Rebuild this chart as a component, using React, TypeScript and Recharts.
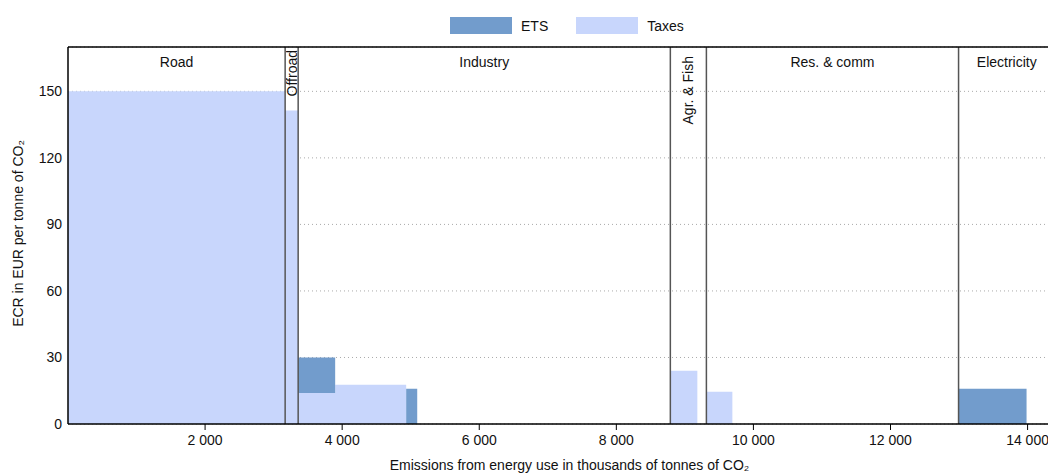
import React from 'react';
import { ComposedChart, Area, XAxis, YAxis, CartesianGrid, ReferenceLine, ReferenceArea } from 'recharts';

// emission breakpoints (thousands of tonnes CO2) and rates starting at each one
const breakpoints = [0, 3168, 3358, 3898, 4934, 5095, 8788, 9182, 9314, 9693, 12993, 13985];
const taxesRate = [150, 141.4, 14, 17.7, 0, 0, 24, 0, 14.5, 0, 0, 0];
const etsRate = [0, 0, 16, 0, 15.9, 0, 0, 0, 0, 0, 15.9, 0];

const sectorNames = ['Road', 'Offroad', 'Industry', 'Agr. & Fish', 'Res. & comm', 'Electricity'];
const sectorStarts = [0, 3168, 3358, 8788, 9314, 12993];
const sectorEnds = [3168, 3358, 8788, 9314, 12993, 14400];

const xTicks = [2000, 4000, 6000, 8000, 10000, 12000, 14000];
const yTicks = [0, 30, 60, 90, 120, 150];

const data = breakpoints.map((x, i) => ({ x, taxes: taxesRate[i], ets: etsRate[i] }));

const FONT = '"Liberation Sans Narrow", "Arial Narrow", "Liberation Sans", Arial, sans-serif';
const FS = 14;
const ETS_COLOR = '#729ccc';
const TAX_COLOR = '#c8d6fc';

const fmt = (v: number) => String(v).replace(/\B(?=(\d{3})+(?!\d))/g, ' ');

const sectorLabel = (name: string) => (props: any) => {
  const { x, y, width } = props.viewBox;
  const cx = x + width / 2;
  if (width < 60) {
    const top = y + (width < 20 ? 3 : 9);
    return (
      <text x={cx} y={top} transform={`rotate(-90 ${cx} ${top})`} textAnchor="end"
        dominantBaseline="central" fontFamily={FONT} fontSize={FS} fill="#111">{name}</text>
    );
  }
  return (
    <text x={cx} y={y + 15} textAnchor="middle" dominantBaseline="central"
      fontFamily={FONT} fontSize={FS} fill="#111">{name}</text>
  );
};

const YLabel = (props: any) => {
  const { y, height } = props.viewBox;
  const cy = y + height / 2 - 2;
  return (
    <text x={10} y={cy} transform={`rotate(-90 10 ${cy})`} textAnchor="middle" dominantBaseline="central"
      fontFamily={FONT} fontSize={FS} fill="#111">ECR in EUR per tonne of CO₂</text>
  );
};

const XLabel = (props: any) => {
  const { x, width } = props.viewBox;
  return (
    <text x={x + width / 2 + 8} y={457} textAnchor="middle" dominantBaseline="central"
      fontFamily={FONT} fontSize={FS} fill="#111">Emissions from energy use in thousands of tonnes of CO₂</text>
  );
};

const legendItems = [
  { name: 'ETS', color: ETS_COLOR },
  { name: 'Taxes', color: TAX_COLOR },
];

export default function App() {
  return (
    <div style={{ position: 'relative', width: 1048, height: 465, fontFamily: FONT }}>
      <div style={{ position: 'absolute', left: 442, top: 9, display: 'flex', alignItems: 'center', fontSize: FS, color: '#111' }}>
        {legendItems.map((it) => (
          <div key={it.name} style={{ display: 'flex', alignItems: 'center', marginRight: 28 }}>
            <div style={{ width: 62, height: 17, background: it.color, marginRight: 9 }} />
            <span>{it.name}</span>
          </div>
        ))}
      </div>
      <ComposedChart width={1048} height={465} data={data} margin={{ top: 39, right: 1, bottom: 0, left: 0 }}>
        <CartesianGrid vertical={false} stroke="#aaa" strokeDasharray="1 3" />
        <XAxis
          dataKey="x"
          type="number"
          domain={[0, 14400]}
          ticks={xTicks}
          tickFormatter={fmt}
          height={49}
          axisLine={{ stroke: '#000', strokeWidth: 1.5 }}
          tickLine={{ stroke: '#000' }}
          tickSize={6}
          tickMargin={5}
          tick={{ fill: '#111', fontSize: FS, fontFamily: FONT }}
          label={<XLabel />}
        />
        <YAxis
          type="number"
          domain={[0, 170]}
          ticks={yTicks}
          width={60}
          axisLine={{ stroke: '#000', strokeWidth: 1.5 }}
          tickLine={false}
          tickSize={4}
          tickMargin={2}
          tick={{ fill: '#111', fontSize: FS, fontFamily: FONT }}
          label={<YLabel />}
        />
        <Area type="stepAfter" dataKey="taxes" stackId="r" stroke="none" fill={TAX_COLOR} fillOpacity={1} isAnimationActive={false} />
        <Area type="stepAfter" dataKey="ets" stackId="r" stroke="none" fill={ETS_COLOR} fillOpacity={1} isAnimationActive={false} />
        {sectorStarts.slice(1).map((s) => (
          <ReferenceLine key={s} x={s} stroke="#555" strokeWidth={1.5} />
        ))}
        <ReferenceLine y={170} stroke="#000" strokeWidth={1.5} />
        {sectorNames.map((n, i) => (
          <ReferenceArea key={n} x1={sectorStarts[i]} x2={sectorEnds[i]} y1={0} y2={170}
            fill="none" fillOpacity={0} stroke="none" label={sectorLabel(n)} />
        ))}
      </ComposedChart>
    </div>
  );
}
